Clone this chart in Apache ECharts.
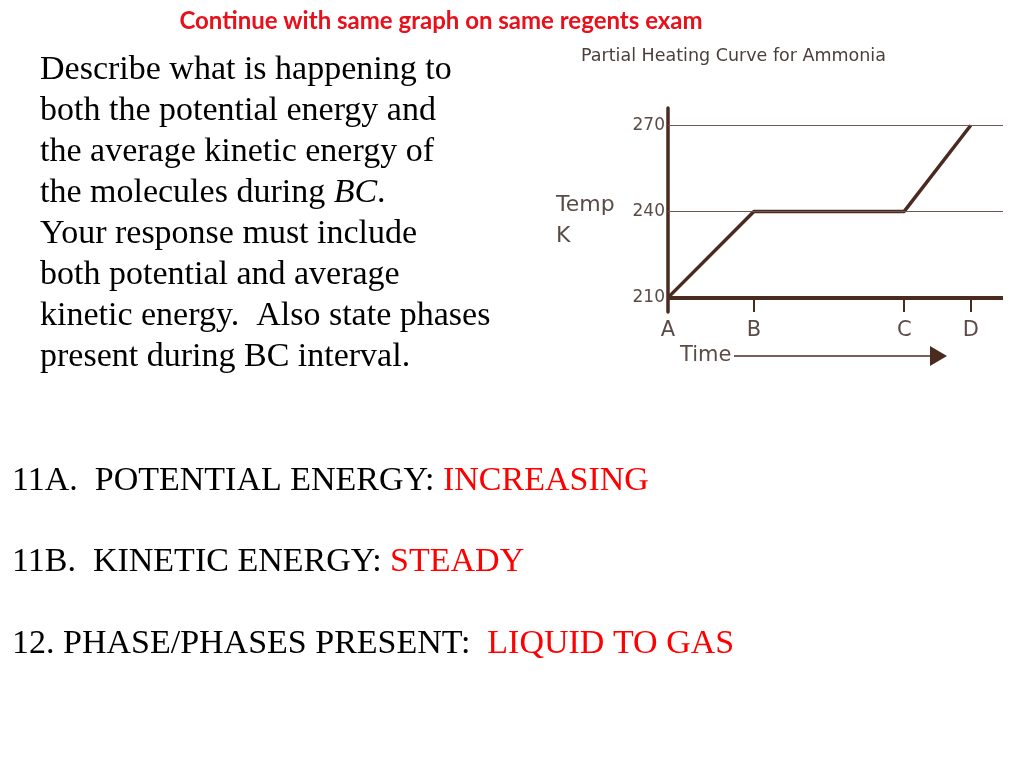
<!DOCTYPE html>
<html>
<head>
<meta charset="utf-8">
<title>Partial Heating Curve for Ammonia</title>
<script src="https://cdn.jsdelivr.net/npm/echarts@6/dist/echarts.min.js"></script>
<style>
  html, body { margin: 0; padding: 0; background: #fff; }
  #main { width: 1024px; height: 768px; }
</style>
</head>
<body>
<div id="main"></div>
<script>
// heating curve points A, B, C, D
var timeVals = [0, 4, 11, 14.1];
var tempVals = [210, 240, 240, 270];
var timeLabels = ['A', 'B', 'C', 'D'];
var tempTicks = [210, 240, 270];

// slide text
var questionLines = [
    'Describe what is happening to',
    'both the potential energy and',
    'the average kinetic energy of',
    '{n|the molecules during }{i|BC}{n|.}',
    'Your response must include',
    'both potential and average',
    'kinetic energy.  Also state phases',
    'present during BC interval.'
];
var answerLabels = ['11A.  POTENTIAL ENERGY: ', '11B.  KINETIC ENERGY: ', '12. PHASE/PHASES PRESENT:  '];
var answerValues = ['INCREASING', 'STEADY', 'LIQUID TO GAS'];

var brown = '#4b2a20';
var grey = '#5b4b47';

var points = [];
for (var i = 0; i < timeVals.length; i++) {
    points.push([timeVals[i], tempVals[i]]);
}

var graphics = [];
graphics.push({
    type: 'text',
    style: {
        text: 'Continue with same graph on same regents exam',
        x: 441, y: 21,
        textAlign: 'center', textVerticalAlign: 'middle',
        fontFamily: 'Lato', fontWeight: 'bold', fontSize: 24,
        fill: '#e8101a'
    }
});
graphics.push({
    type: 'text',
    style: {
        text: questionLines.map(function (l) {
            return l.indexOf('{') === 0 ? l : '{n|' + l + '}';
        }).join('\n'),
        x: 40, y: 50,
        rich: {
            n: { fontFamily: 'Liberation Serif', fontSize: 34, lineHeight: 41, fill: '#000' },
            i: { fontFamily: 'Liberation Serif', fontSize: 34, lineHeight: 41, fill: '#000', fontStyle: 'italic' }
        }
    }
});
var answerY = [481, 562, 644];
for (var j = 0; j < answerLabels.length; j++) {
    graphics.push({
        type: 'text',
        style: {
            text: '{b|' + answerLabels[j] + '}{r|' + answerValues[j] + '}',
            x: 12, y: answerY[j],
            textVerticalAlign: 'middle',
            rich: {
                b: { fontFamily: 'Liberation Serif', fontSize: 34, fill: '#000' },
                r: { fontFamily: 'Liberation Serif', fontSize: 34, fill: '#f00' }
            }
        }
    });
}
// axis name Temp K
graphics.push({
    type: 'text',
    style: {
        text: 'Temp\nK',
        x: 556, y: 190,
        fontFamily: 'DejaVu Sans', fontSize: 22, lineHeight: 31,
        fill: grey
    }
});
// Time arrow
graphics.push({
    type: 'text',
    style: {
        text: 'Time',
        x: 680, y: 356,
        textVerticalAlign: 'middle',
        fontFamily: 'DejaVu Sans', fontSize: 21,
        fill: grey
    }
});
graphics.push({
    type: 'line',
    shape: { x1: 734, y1: 356, x2: 935, y2: 356 },
    style: { stroke: brown, lineWidth: 1.5 }
});
graphics.push({
    type: 'polygon',
    shape: { points: [[930, 346], [947, 356], [930, 366]] },
    style: { fill: brown }
});

var myChart = echarts.init(document.getElementById('main'));
var option = {
    animation: false,
    title: {
        text: 'Partial Heating Curve for Ammonia',
        left: 581,
        top: 47,
        padding: 0,
        textStyle: {
            fontFamily: 'DejaVu Sans',
            fontSize: 17.5,
            fontWeight: 'normal',
            color: '#4a3f3b'
        }
    },
    grid: { left: 668, right: 21, top: 108, bottom: 456 },
    xAxis: {
        type: 'value',
        min: 0,
        max: 15.6,
        axisLine: { show: false },
        splitLine: { show: false },
        axisTick: {
            show: true,
            inside: true,
            length: 13,
            customValues: timeVals,
            lineStyle: { color: brown, width: 2 }
        },
        axisLabel: {
            customValues: timeVals,
            margin: 8,
            fontFamily: 'DejaVu Sans',
            fontSize: 21,
            color: grey,
            formatter: function (v) {
                var k = timeVals.indexOf(v);
                return k >= 0 ? timeLabels[k] : '';
            }
        }
    },
    yAxis: {
        type: 'value',
        min: 205,
        max: 276,
        axisLine: { show: true, lineStyle: { color: brown, width: 3.5 } },
        axisTick: { show: false },
        splitLine: { show: false },
        axisLabel: {
            customValues: tempTicks,
            margin: 3,
            fontFamily: 'DejaVu Sans',
            fontSize: 17,
            color: grey
        }
    },
    series: [{
        type: 'line',
        data: points,
        symbol: 'none',
        lineStyle: { color: brown, width: 3.5 },
        markLine: {
            silent: true,
            symbol: 'none',
            label: { show: false },
            data: [
                { yAxis: tempTicks[0], lineStyle: { color: brown, width: 4, type: 'solid' } },
                { yAxis: tempTicks[1], lineStyle: { color: '#6b5a55', width: 1, type: 'solid' } },
                { yAxis: tempTicks[2], lineStyle: { color: '#6b5a55', width: 1, type: 'solid' } }
            ]
        }
    }],
    graphic: graphics
};
myChart.setOption(option);
</script>
</body>
</html>
